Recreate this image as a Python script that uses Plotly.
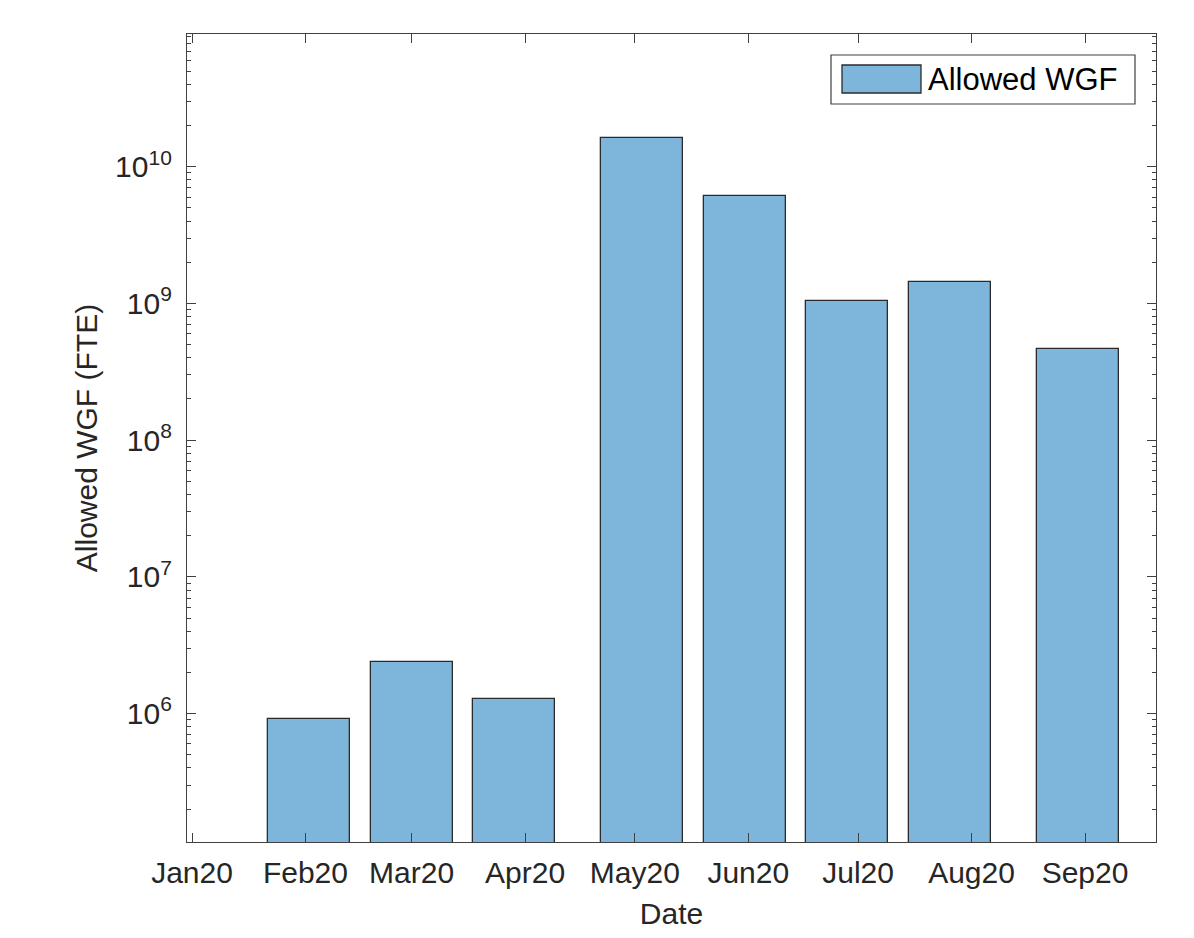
import plotly.graph_objects as go

# Data (fiscal-month dates, values in FTE)
bar_dates = ["2020-02-02", "2020-03-01", "2020-03-29", "2020-05-03",
             "2020-05-31", "2020-06-28", "2020-07-26", "2020-08-30"]
allowed_wgf = [9.1e5, 2.40e6, 1.27e6, 1.63e10, 6.07e9, 1.05e9, 1.43e9, 4.61e8]

tick_dates = ["2020-01-01", "2020-02-01", "2020-03-01", "2020-04-01", "2020-05-01",
              "2020-06-01", "2020-07-01", "2020-08-01", "2020-09-01"]
tick_labels = ["Jan20", "Feb20", "Mar20", "Apr20", "May20",
               "Jun20", "Jul20", "Aug20", "Sep20"]

series_name = "Allowed WGF"

FONT = "Liberation Sans, Arial, Helvetica, sans-serif"
TXT = "#262626"
AX = "#404040"
BAR = "#7DB6DA"
EDGE = "#2B2B2B"

DAY_MS = 86400000
bar_width = 0.8 * 28 * DAY_MS

fig = go.Figure()
fig.add_trace(go.Bar(
    x=bar_dates, y=allowed_wgf, width=[bar_width] * len(bar_dates),
    marker=dict(color=BAR, line=dict(color=EDGE, width=1.3)),
    name=series_name, showlegend=False,
))

# page body has an 8px margin, so the figure is offset by 8px
OFF = 8
# Plot area in reference pixels: x 187-1156, y 34-842
L, R, T, B = 187 - OFF, 1156 - OFF, 34 - OFF, 842 - OFF
W, H = 1194 - OFF, 938 - OFF


def px(x):
    return (x - OFF - L) / (R - L)


def py(y):
    return (B - (y - OFF)) / (B - T)


shapes = [
    dict(type="rect", xref="paper", yref="paper",
         x0=px(831), x1=px(1135), y0=py(104), y1=py(55),
         line=dict(color=AX, width=1.2), fillcolor="white", layer="above"),
    dict(type="rect", xref="paper", yref="paper",
         x0=px(842), x1=px(921), y0=py(93), y1=py(65),
         line=dict(color=EDGE, width=1.3), fillcolor=BAR, layer="above"),
]
annotations = [
    dict(xref="paper", yref="paper", x=px(926), y=py(79), text=series_name,
         showarrow=False, xanchor="left", yanchor="middle",
         font=dict(family=FONT, size=31, color="#000000")),
]

fig.update_layout(
    width=W, height=H,
    margin=dict(l=L, r=W - R, t=T, b=H - B, autoexpand=False),
    paper_bgcolor="white", plot_bgcolor="white",
    font=dict(family=FONT, size=30, color=TXT),
    bargap=0,
    shapes=shapes, annotations=annotations,
    xaxis=dict(
        type="date",
        range=["2019-12-30 15:13", "2020-09-20 09:36"],
        tickmode="array", tickvals=tick_dates, ticktext=tick_labels,
        ticks="inside", ticklen=9, tickwidth=1.3, tickcolor=AX,
        showline=True, linecolor=AX, linewidth=1.3, mirror="ticks",
        showgrid=False, zeroline=False,
        ticklabelstandoff=4,
        tickfont=dict(family=FONT, size=30, color=TXT),
        title=dict(text="Date", font=dict(family=FONT, size=30, color=TXT), standoff=14),
        automargin=False,
    ),
    yaxis=dict(
        type="log",
        range=[5.0604, 10.971],
        tickmode="array",
        tickvals=[1e6, 1e7, 1e8, 1e9, 1e10],
        ticktext=["10<sup>6</sup>", "10<sup>7</sup>", "10<sup>8</sup>", "10<sup>9</sup>", "10<sup>10</sup>"],
        ticks="inside", ticklen=9, tickwidth=1.3, tickcolor=AX,
        minor=dict(ticks="inside", ticklen=4, tickwidth=1.1, tickcolor=AX, dtick="D1", showgrid=False),
        showline=True, linecolor=AX, linewidth=1.3, mirror="ticks",
        showgrid=False, zeroline=False,
        ticklabelstandoff=8,
        tickfont=dict(family=FONT, size=30, color=TXT),
        title=dict(text="Allowed WGF (FTE)", font=dict(family=FONT, size=30, color=TXT), standoff=8),
        automargin=False,
    ),
)

fig.write_html("out.html")
